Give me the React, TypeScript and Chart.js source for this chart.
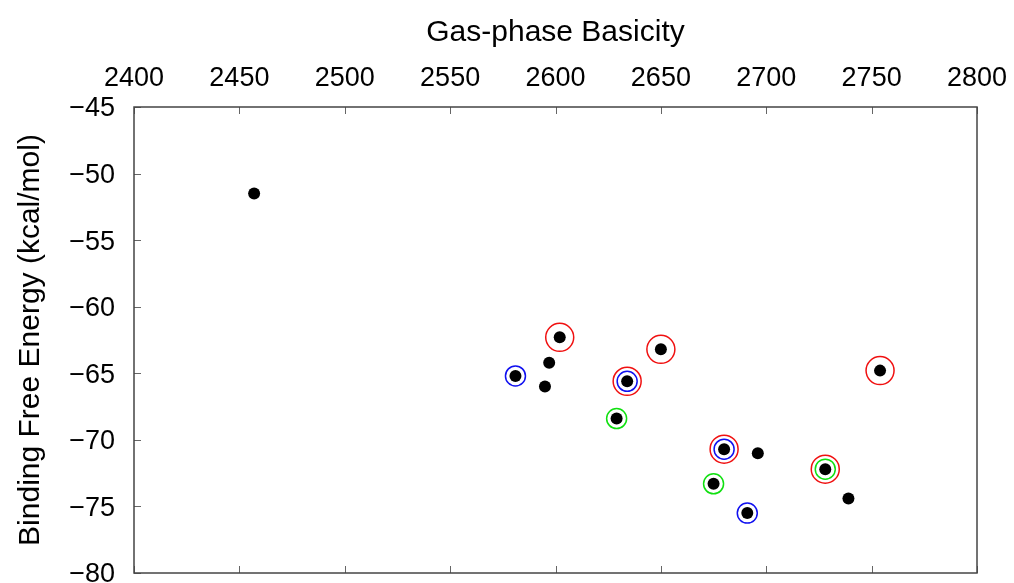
import React, { useEffect, useRef } from "react";
import { Chart, registerables } from "chart.js";

Chart.register(...registerables);

const FONT = '"Liberation Sans", Arial, Helvetica, sans-serif';

const xTitle = "Gas-phase Basicity";
const yTitle = "Binding Free Energy (kcal/mol)";

// all compounds (black dots)
const allX = [2457, 2602, 2597, 2581, 2595, 2634, 2650, 2629, 2680, 2696, 2675, 2691, 2728, 2739, 2754];
const allY = [-51.5, -62.3, -64.2, -65.2, -66.0, -65.6, -63.2, -68.4, -70.7, -71.0, -73.3, -75.5, -72.2, -74.4, -64.8];

// red-circled
const redX = [2602, 2634, 2650, 2680, 2728, 2754];
const redY = [-62.3, -65.6, -63.2, -70.7, -72.2, -64.8];

// blue-circled
const blueX = [2581, 2634, 2680, 2691];
const blueY = [-65.2, -65.6, -70.7, -75.5];

// green-circled
const greenX = [2629, 2675, 2728];
const greenY = [-68.4, -73.3, -72.2];

const pts = (xs: number[], ys: number[]) => xs.map((x, i) => ({ x, y: ys[i] }));

const framePlugin = {
  id: "frameTicks",
  afterDatasetsDraw(chart: any) {
    const { ctx, chartArea } = chart;
    const { left, right, top, bottom } = chartArea;
    const xs = chart.scales.x;
    const ys = chart.scales.y;
    ctx.save();
    ctx.strokeStyle = "#666";
    ctx.lineWidth = 1;
    const tl = 7;
    xs.ticks.forEach((t: any) => {
      const px = Math.round(xs.getPixelForValue(t.value)) + 0.5;
      ctx.beginPath();
      ctx.moveTo(px, top);
      ctx.lineTo(px, top + tl);
      ctx.moveTo(px, bottom);
      ctx.lineTo(px, bottom - tl);
      ctx.stroke();
    });
    ys.ticks.forEach((t: any) => {
      const py = Math.round(ys.getPixelForValue(t.value)) + 0.5;
      ctx.beginPath();
      ctx.moveTo(left, py);
      ctx.lineTo(left + tl, py);
      ctx.stroke();
    });
    ctx.strokeStyle = "#444";
    ctx.lineWidth = 1.5;
    ctx.strokeRect(left, top, right - left, bottom - top);
    ctx.restore();
  },
};

export default function App() {
  const ref = useRef<HTMLCanvasElement>(null);
  useEffect(() => {
    if (!ref.current) return;
    const zeroPad = (s: any) => {
      s.paddingLeft = 0;
      s.paddingRight = 0;
      s.paddingTop = 0;
      s.paddingBottom = 0;
    };
    const ring = (data: any, color: string, r: number) => ({
      data,
      showLine: false,
      pointStyle: "circle",
      pointRadius: r,
      pointHoverRadius: r,
      pointBackgroundColor: "rgba(0,0,0,0)",
      pointBorderColor: color,
      pointBorderWidth: 1.5,
    });
    const chart = new Chart(ref.current, {
      type: "scatter",
      data: {
        datasets: [
          {
            data: pts(allX, allY),
            pointRadius: 6,
            pointHoverRadius: 6,
            pointBackgroundColor: "#000",
            pointBorderColor: "#000",
            pointBorderWidth: 0,
          },
          ring(pts(blueX, blueY), "#1010f0", 10),
          ring(pts(greenX, greenY), "#10e010", 10),
          ring(pts(redX, redY), "#f01010", 14),
        ],
      },
      options: {
        animation: false,
        responsive: false,
        devicePixelRatio: 1,
        layout: { autoPadding: false, padding: { left: 0, top: 0, right: 37, bottom: 10 } },
        plugins: { legend: { display: false }, tooltip: { enabled: false } },
        scales: {
          x: {
            type: "linear",
            position: "top",
            min: 2400,
            max: 2800,
            grid: { display: false, drawTicks: false },
            border: { display: false },
            ticks: {
              stepSize: 50,
              padding: 12,
              color: "#000",
              maxRotation: 0,
              autoSkip: false,
              font: { family: FONT, size: 27 },
              callback: (v: any) => String(v),
            },
            title: {
              display: true,
              text: xTitle,
              color: "#000",
              font: { family: FONT, size: 30 },
              padding: { top: 14.5, bottom: 0 },
            },
            afterFit: (s: any) => {
              s.height = 107;
              zeroPad(s);
            },
          },
          y: {
            type: "linear",
            min: -80,
            max: -45,
            grid: { display: false, drawTicks: false },
            border: { display: false },
            ticks: {
              stepSize: 5,
              padding: 19,
              labelOffset: 2,
              color: "#000",
              autoSkip: false,
              font: { family: FONT, size: 27 },
              callback: (v: any) => String(v).replace("-", "\u2212"),
            },
            title: {
              display: true,
              text: yTitle,
              color: "#000",
              font: { family: FONT, size: 30 },
              padding: { top: 12.5, bottom: 0 },
            },
            afterFit: (s: any) => {
              s.width = 134;
              zeroPad(s);
            },
          },
        },
      },
      plugins: [framePlugin],
    });
    return () => chart.destroy();
  }, []);
  return (
    <div style={{ position: "absolute", left: 0, top: 0, width: 1014, height: 583, background: "#fff" }}>
      <canvas ref={ref} width={1014} height={583} />
    </div>
  );
}
